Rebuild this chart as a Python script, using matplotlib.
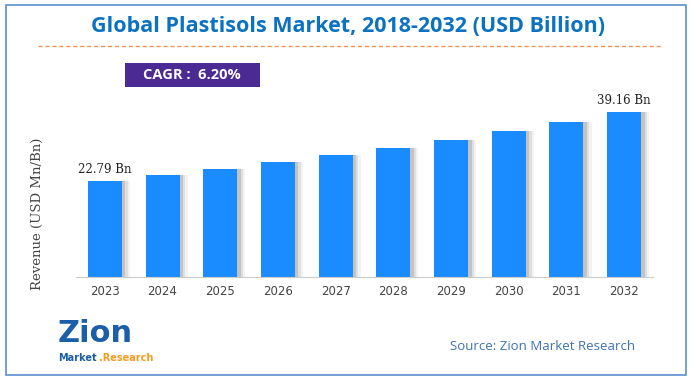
import matplotlib.pyplot as plt
from matplotlib.patches import Rectangle
import numpy as np

years = ['2023', '2024', '2025', '2026', '2027', '2028', '2029', '2030', '2031', '2032']
revenue = [22.79, 24.2, 25.7, 27.4, 29.0, 30.7, 32.6, 34.7, 36.9, 39.16]
labels = {0: '22.79 Bn', 9: '39.16 Bn'}

bar_color = '#1a8cff'

fig = plt.figure(figsize=(6.96, 3.83), dpi=100)

# outer frame
fig.patches.append(Rectangle((6/696, 1-375/383), 680/696, 370/383, transform=fig.transFigure,
                             fill=False, edgecolor='#5b8fd0', linewidth=1.2))

fig.text(0.5, 1-27/383, 'Global Plastisols Market, 2018-2032 (USD Billion)', ha='center', va='center',
         fontsize=15.5, fontweight='bold', color='#0b72c2', family='Open Sans')
fig.add_artist(plt.Line2D([38/696, 662/696], [1-46/383, 1-46/383], transform=fig.transFigure,
                          color='#f0955a', linestyle=(0, (3, 2)), linewidth=1))

# CAGR box
fig.patches.append(Rectangle((125/696, 1-87/383), 135/696, 24/383, transform=fig.transFigure,
                             facecolor='#4b2a94', edgecolor='none'))
fig.text(192/696, 1-75/383, 'CAGR :  6.20%', ha='center', va='center', fontsize=10.5,
         fontweight='bold', color='white', family='Open Sans')

ax = fig.add_axes([76/696, 1-277/383, 577/696, 175/383])
x = np.arange(len(years))
# soft shadow behind bars
for k, a in enumerate([0.25, 0.15, 0.08]):
    ax.bar(x + 0.06 + k * 0.04, revenue, width=0.59, color='#707070', alpha=a, zorder=1)
ax.bar(x, revenue, width=0.59, color=bar_color, zorder=2)
for i, t in labels.items():
    ax.text(x[i], revenue[i] + 1.2, t, ha='center', va='bottom', fontsize=8.5,
            family='DejaVu Serif', color='#222222')

ax.set_xlim(-0.5, len(years) - 0.5)
ax.set_ylim(0, 41.6)
ax.set_xticks(x)
ax.set_xticklabels(years, fontsize=8.5, color='#444444')
ax.tick_params(axis='x', length=0, pad=6)
ax.set_yticks([])
for s in ['top', 'right', 'left']:
    ax.spines[s].set_visible(False)
ax.spines['bottom'].set_color('#cccccc')
ax.set_ylabel('Revenue (USD Mn/Bn)', fontsize=9.5, family='DejaVu Serif', color='#444444', labelpad=14)
ax.yaxis.set_label_coords(-0.055, 0.36)

# logo approximation
fig.text(58/696, 1-333/383, 'Zion', ha='left', va='center', fontsize=22, fontweight='bold',
         color='#1b5fa8', family='DejaVu Sans')
fig.text(58/696, 1-358/383, 'Market', ha='left', va='center', fontsize=7, fontweight='bold',
         color='#1b5fa8')
fig.text(99/696, 1-358/383, '.Research', ha='left', va='center', fontsize=7, fontweight='bold',
         color='#f39c1f')

fig.text(543/696, 1-346/383, 'Source: Zion Market Research', ha='center', va='center', fontsize=9.5,
         color='#3f73b0', family='Open Sans')

fig.savefig('out.png', dpi=100)
